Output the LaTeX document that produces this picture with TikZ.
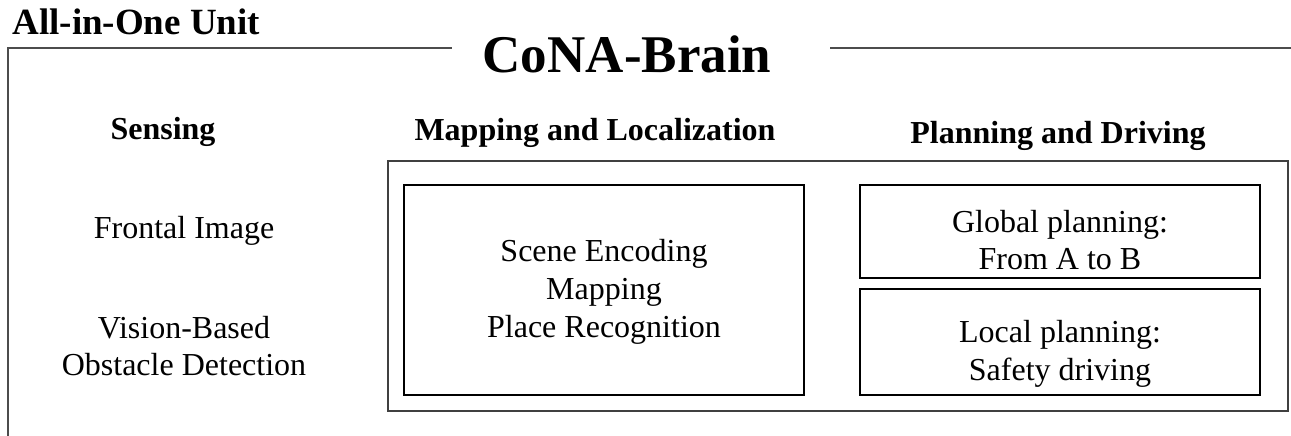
\documentclass[tikz,border=0pt]{standalone}
\usepackage{fontspec}
\setmainfont{Liberation Serif}
\usetikzlibrary{positioning}
\tikzset{
    frameline/.style={draw=black!70, line width=1pt},
    heading/.style={font=\bfseries\fontsize{16}{19}\selectfont, inner sep=0pt, anchor=base}
}

\begin{document}
\begin{tikzpicture}[x=0.5pt, y=-0.5pt,
    outerbox/.style={draw=black!75, line width=1pt, minimum width=450pt, inner sep=0pt},
    block/.style={draw, line width=0.7pt, minimum width=200pt, inner sep=0pt},
    item/.style={font=\fontsize{16}{18.5}\selectfont, align=center, inner sep=0pt, anchor=base}]

\useasboundingbox (0,0) rectangle (1291,435);

% open frame of the unit
\coordinate (frameBot) at (8,440);
\coordinate (frameCorner) at (8,48);
\coordinate (gapLeft) at (452,48);
\coordinate (gapRight) at (830,48);
\coordinate (frameEnd) at (1295,48);
\draw [frameline] (frameBot) -- (frameCorner) -- (gapLeft);
\draw [frameline] (gapRight) -- (frameEnd);

\node [font=\bfseries\fontsize{18.5}{22}\selectfont, inner sep=0pt, anchor=base west] (unit) at (12,34) {All-in-One Unit};
\node [font=\bfseries\fontsize{26.5}{32}\selectfont, inner sep=0pt, anchor=base] (brain) at (627,72) {CoNA-Brain};

% column headings
\node [heading] (senseHead) at (163,139) {Sensing};
\node [heading] (mapHead) at (595,140) {Mapping and Localization};
\node [heading] (planHead) at (1058,143) {Planning and Driving};

% boxes
\node [outerbox, minimum height=125pt] (core) at (838,286) {};
\node [block, minimum height=105pt] (mapBox) at (604,290) {};
\node [block, minimum height=46.5pt] (globalBox) at (1060,231.5) {};
\node [block, minimum height=53pt] (localBox) at (1060,342) {};

% texts (base = last line)
\node [item] (frontal) at (184,238) {Frontal Image};
\node [item] (obstacle) at (184,375) {Vision-Based\\Obstacle Detection};
\node [item, font=\fontsize{16}{19}\selectfont] (scene) at (604,337) {Scene Encoding\\Mapping\\Place Recognition};
\node [item] (global) at (1060,269) {Global planning:\\From A to B};
\node [item, font=\fontsize{16}{19}\selectfont] (local) at (1060,380) {Local planning:\\Safety driving};

\end{tikzpicture}
\end{document}
